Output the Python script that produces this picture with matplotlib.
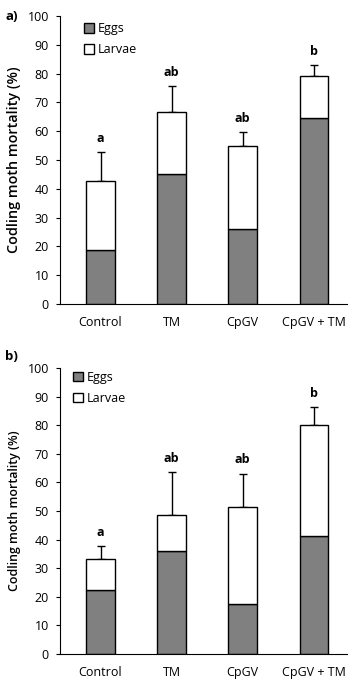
import matplotlib
matplotlib.use("Agg")
import matplotlib.pyplot as plt
from matplotlib.patches import Patch
import numpy as np

plt.rcParams['font.family'] = ['Open Sans', 'DejaVu Sans']

treatments = ["Control", "TM", "CpGV", "CpGV + TM"]

eggs_a = [18.8, 45.1, 26.0, 64.6]
total_a = [42.8, 66.5, 54.9, 79.1]
err_a = [10.0, 9.1, 4.7, 3.8]
letters_a = ["a", "ab", "ab", "b"]

eggs_b = [22.4, 36.0, 17.5, 41.3]
total_b = [33.2, 48.6, 51.3, 80.0]
err_b = [4.5, 15.0, 11.8, 6.3]
letters_b = ["a", "ab", "ab", "b"]


def panel(ax, eggs, total, err, letters, tag, ylab_size, leg_x, leg_y, tag_y):
    x = np.arange(len(treatments))
    larvae = np.array(total) - np.array(eggs)
    ax.errorbar(x, total, yerr=[np.zeros(len(err)), err], fmt="none",
                ecolor="black", elinewidth=1, capsize=3.2, capthick=1, zorder=1)
    ax.bar(x, eggs, width=0.4, color="#808080", edgecolor="black", linewidth=1, zorder=2)
    ax.bar(x, larvae, width=0.4, bottom=eggs, color="white", edgecolor="black",
           linewidth=1, zorder=2)
    for xi, t, e, l in zip(x, total, err, letters):
        ax.text(xi, t + e + 2.5, l, ha="center", va="bottom", fontsize=9, fontweight="bold")
    ax.set_ylim(0, 100)
    ax.set_yticks(range(0, 101, 10))
    ax.set_xlim(-0.57, 3.47)
    ax.set_xticks(x)
    ax.set_xticklabels(treatments)
    ax.tick_params(axis="x", length=0, pad=9, labelsize=9)
    ax.tick_params(axis="y", length=3, pad=5, labelsize=9, direction="out")
    for s in ["top", "right"]:
        ax.spines[s].set_visible(False)
    ax.set_ylabel("Codling moth mortality (%)", fontsize=ylab_size, fontweight="semibold")
    ax.yaxis.set_label_coords(-0.135, 0.5)
    handles = [Patch(facecolor="#808080", edgecolor="black", label="Eggs"),
               Patch(facecolor="white", edgecolor="black", label="Larvae")]
    ax.legend(handles=handles, loc="upper left", bbox_to_anchor=(leg_x, leg_y), frameon=False,
              fontsize=9, handlelength=0.8, handleheight=0.8, handletextpad=0.3,
              labelspacing=0.65, borderpad=0, borderaxespad=0)
    ax.text(-0.19, tag_y, tag, transform=ax.transAxes, fontsize=9.5, fontweight="bold",
            ha="left", va="center")


fig = plt.figure(figsize=(3.51, 6.84), dpi=100)
ax1 = fig.add_axes([0.171, 0.5556, 0.818, 0.421])
ax2 = fig.add_axes([0.171, 0.0439, 0.818, 0.418])
panel(ax1, eggs_a, total_a, err_a, letters_a, "a)", 10.4, 0.085, 0.978, 1.0)
panel(ax2, eggs_b, total_b, err_b, letters_b, "b)", 8.9, 0.045, 0.99, 1.04)
fig.savefig("out.png", dpi=100)
